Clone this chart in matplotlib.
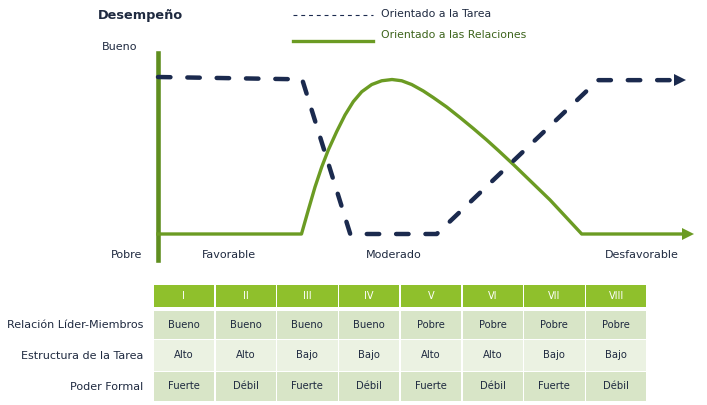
import matplotlib
matplotlib.use("Agg")
import matplotlib.pyplot as plt
from matplotlib.lines import Line2D
from matplotlib.patches import Rectangle

# ---------------- data ----------------
title = "Desempeño"
series_names = ["Orientado a la Tarea", "Orientado a las Relaciones"]
y_labels = ["Bueno", "Pobre"]
x_labels = ["Favorable", "Moderado", "Desfavorable"]

# situational favourability (0-100) vs. performance (0 = Pobre, 1 = Bueno)
task_x = [0.0, 27.0, 36.0, 52.2, 82.4, 97.8]
task_y = [1.0, 0.985, 0.0, 0.0, 0.98, 0.98]

rel_x = [0.0, 26.87, 28.15, 29.40, 30.66, 31.89, 33.46, 35.02, 36.57, 38.15,
         40.02, 41.89, 43.82, 45.64, 47.51, 49.68, 51.55, 54.06, 56.55, 59.05,
         61.55, 63.73, 66.54, 73.41, 79.35, 99.2]
rel_y = [0.0, 0.0, 0.153, 0.299, 0.427, 0.535, 0.652, 0.758, 0.843, 0.906,
         0.952, 0.976, 0.984, 0.976, 0.952, 0.911, 0.869, 0.809, 0.742, 0.672,
         0.599, 0.532, 0.443, 0.217, 0.0, 0.0]

octants = ["I", "II", "III", "IV", "V", "VI", "VII", "VIII"]
row_labels = ["Relación Líder-Miembros", "Estructura de la Tarea", "Poder Formal"]
relacion = ["Bueno", "Bueno", "Bueno", "Bueno", "Pobre", "Pobre", "Pobre", "Pobre"]
estructura = ["Alto", "Alto", "Bajo", "Bajo", "Alto", "Alto", "Bajo", "Bajo"]
poder = ["Fuerte", "Débil", "Fuerte", "Débil", "Fuerte", "Débil", "Fuerte", "Débil"]
table_rows = [relacion, estructura, poder]

# ---------------- style ----------------
W, H = 707, 405
NAVY = "#1b2a4e"
GREEN = "#6b9b23"
AXGREEN = "#5f8e1f"
HEAD = "#8fc02c"
ROW_DARK = "#d8e5c7"
ROW_LIGHT = "#ebf2e2"
TXT = "#1f2a40"
LEG_GREEN = "#3d641c"

plt.rcParams["font.family"] = ["DejaVu Sans"]

fig = plt.figure(figsize=(W / 100, H / 100), dpi=100)
fig.patch.set_facecolor("white")

def fx(px):
    return px / W

def fy(py):
    return 1 - py / H

# ---------------- chart ----------------
top_px, bot_px = 50, 262
ax = fig.add_axes([fx(158), fy(bot_px), (692 - 158) / W, (bot_px - top_px) / H])
ax.set_xlim(0, 100)
ax.set_ylim((234 - bot_px) / 157, (234 - top_px) / 157)
for s in ["top", "right", "bottom"]:
    ax.spines[s].set_visible(False)
ax.spines["left"].set_color(AXGREEN)
ax.spines["left"].set_linewidth(3.3)
ax.spines["left"].set_bounds((234 - 260) / 157, (234 - 53) / 157)
ax.set_xticks([])
ax.set_yticks([])
ax.patch.set_alpha(0)

ax.plot(rel_x, rel_y, color=GREEN, lw=2.4, solid_joinstyle="round",
        marker=">", markevery=[len(rel_x) - 1], markersize=8.5,
        markeredgewidth=0, markerfacecolor=GREEN, clip_on=False, zorder=3)
ax.plot(task_x, task_y, color=NAVY, lw=3.2, linestyle=(0, (2.8, 3.8)),
        dash_capstyle="round", marker=">", markevery=[len(task_x) - 1],
        markersize=8.5, markeredgewidth=0, markerfacecolor=NAVY,
        clip_on=False, zorder=4)

# title and axis labels
fig.text(fx(98), fy(16), title, fontsize=9.3, fontweight="bold", color=TXT,
         ha="left", va="center")
fig.text(fx(137), fy(47), y_labels[0], fontsize=8, color=TXT, ha="right", va="center")
fig.text(fx(142), fy(255), y_labels[1], fontsize=8, color=TXT, ha="right", va="center")
for lab, cx in zip(x_labels, [229, 394, 642]):
    fig.text(fx(cx), fy(255), lab, fontsize=8, color=TXT, ha="center", va="center")

# legend
fig.add_artist(Line2D([fx(293), fx(373)], [fy(15), fy(15)], color=NAVY, lw=0.8,
                      linestyle=(0, (3.5, 3.5))))
fig.add_artist(Line2D([fx(293), fx(373)], [fy(41), fy(41)], color=GREEN, lw=2.4))
fig.text(fx(381), fy(14), series_names[0], fontsize=7.8, color=TXT, ha="left", va="center")
fig.text(fx(381), fy(35), series_names[1], fontsize=7.8, color=LEG_GREEN, ha="left", va="center")

# ---------------- table ----------------
tab_top, tab_bot = 283, 403
tax = fig.add_axes([fx(153), fy(tab_bot), (647 - 153) / W, (tab_bot - tab_top) / H])
tax.set_xlim(0, len(octants))
tax.set_ylim(tab_bot, tab_top)
tax.axis("off")

g = 0.75 / ((647 - 153) / len(octants))
header_edges = (285, 307)
row_edges = [(310.5, 338.5), (339.5, 370.5), (371.5, 400.5)]
row_colors = [ROW_DARK, ROW_LIGHT, ROW_DARK]

for i, lab in enumerate(octants):
    y0, y1 = header_edges
    tax.add_patch(Rectangle((i + g, y0), 1 - 2 * g, y1 - y0, facecolor=HEAD,
                            edgecolor="none"))
    tax.text(i + 0.5, (y0 + y1) / 2, lab, color="white", fontsize=7,
             ha="center", va="center")

for r, (vals, (y0, y1), col) in enumerate(zip(table_rows, row_edges, row_colors)):
    for i, v in enumerate(vals):
        tax.add_patch(Rectangle((i + g, y0), 1 - 2 * g, y1 - y0, facecolor=col,
                                edgecolor="none"))
        tax.text(i + 0.5, (y0 + y1) / 2, v, color=TXT, fontsize=7.2,
                 ha="center", va="center")
    fig.text(fx(143), fy((y0 + y1) / 2 + 1), row_labels[r], fontsize=8,
             color=TXT, ha="right", va="center")

fig.savefig("out.png", dpi=100, facecolor="white")
